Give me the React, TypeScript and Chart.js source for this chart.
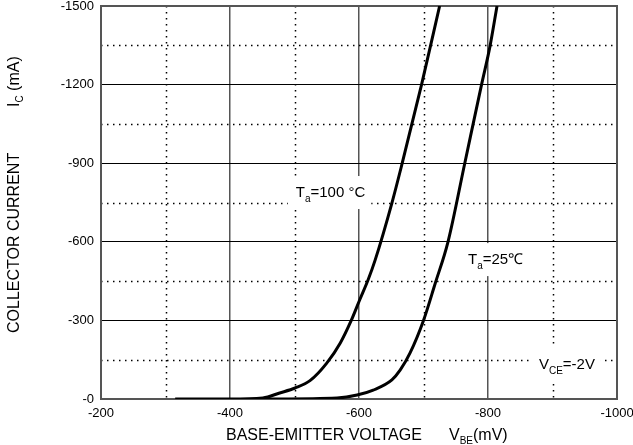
import React, { useEffect, useRef } from "react";
import { Chart, registerables } from "chart.js";

Chart.register(...registerables);

// VBE (mV) and IC (mA) for Ta = 100 °C
const vbe100 = [-315, -400, -451, -477, -501, -524, -550, -571, -588, -601, -614, -625, -651, -667, -697, -725];
const ic100 = [0, 0, -4, -23, -42, -70, -137, -214, -300, -378, -454, -530, -748, -900, -1200, -1500];
// VBE (mV) and IC (mA) for Ta = 25 °C
const vbe25 = [-450, -566, -597, -622, -651, -664, -679, -700, -718, -738, -764, -790, -803, -814];
const ic25 = [0, -4, -15, -34, -73, -111, -175, -300, -440, -600, -900, -1200, -1345, -1500];

const xMajorTicks = [-200, -400, -600, -800, -1000];
const yMajorTicks = [0, -300, -600, -900, -1200, -1500];
const xMinorLines = [-300, -500, -700, -900];
const yMinorLines = [-150, -450, -750, -1050, -1350];

const FONT = '"Liberation Sans", Arial, Helvetica, sans-serif';

type Seg = { t: string; size: number; dy?: number };

function segWidth(ctx: CanvasRenderingContext2D, segs: Seg[]) {
  let w = 0;
  for (const s of segs) {
    ctx.font = `${s.size}px ${FONT}`;
    w += ctx.measureText(s.t).width;
  }
  return w;
}

function drawRich(ctx: CanvasRenderingContext2D, segs: Seg[], x: number, y: number) {
  let cx = x;
  ctx.textBaseline = "alphabetic";
  ctx.textAlign = "left";
  for (const s of segs) {
    ctx.font = `${s.size}px ${FONT}`;
    ctx.fillText(s.t, cx, y + (s.dy || 0));
    cx += ctx.measureText(s.t).width;
  }
}

const annotations = [
  { x: -502, y: -790, segs: [{ t: "T", size: 15 }, { t: "a", size: 10, dy: 5 }, { t: "=100 \u00B0C", size: 15 }] as Seg[] },
  { x: -769, y: -534, segs: [{ t: "T", size: 15 }, { t: "a", size: 10, dy: 5 }, { t: "=25\u2103", size: 15 }] as Seg[] },
  { x: -879, y: -134, segs: [{ t: "V", size: 15 }, { t: "CE", size: 10, dy: 5 }, { t: "=-2V", size: 15 }] as Seg[] },
];

const customPlugin = {
  id: "custom",
  beforeDatasetsDraw(chart: any) {
    const ctx = chart.ctx as CanvasRenderingContext2D;
    const xs = chart.scales.x;
    const ys = chart.scales.y;
    const area = chart.chartArea;
    ctx.save();
    ctx.strokeStyle = "#000";
    ctx.lineWidth = 1.5;
    ctx.setLineDash([1.5, 4.5]);
    for (const v of xMinorLines) {
      const px = Math.round(xs.getPixelForValue(v)) + 0.5;
      ctx.beginPath();
      ctx.moveTo(px, area.top);
      ctx.lineTo(px, area.bottom);
      ctx.stroke();
    }
    for (const v of yMinorLines) {
      const py = Math.round(ys.getPixelForValue(v)) + 0.5;
      ctx.beginPath();
      ctx.moveTo(area.left, py);
      ctx.lineTo(area.right, py);
      ctx.stroke();
    }
    ctx.setLineDash([]);
    // frame
    ctx.strokeStyle = "#555";
    ctx.lineWidth = 2;
    ctx.strokeRect(area.left, area.top, area.right - area.left, area.bottom - area.top);
    // annotation backgrounds
    for (const a of annotations) {
      const px = xs.getPixelForValue(a.x);
      const py = ys.getPixelForValue(a.y);
      const w = segWidth(ctx, a.segs);
      ctx.fillStyle = "#fff";
      ctx.fillRect(px - 8, py - 16, w + 14, 33);
    }
    ctx.fillStyle = "#000";
    for (const a of annotations) {
      const px = xs.getPixelForValue(a.x);
      const py = ys.getPixelForValue(a.y);
      drawRich(ctx, a.segs, px, py + 5);
    }
    ctx.restore();
  },
  afterDraw(chart: any) {
    const ctx = chart.ctx as CanvasRenderingContext2D;
    ctx.save();
    ctx.fillStyle = "#000";
    // x-axis title
    drawRich(ctx, [{ t: "BASE-EMITTER VOLTAGE", size: 16 }], 226, 440);
    drawRich(ctx, [{ t: "V", size: 16 }, { t: "BE", size: 10, dy: 4 }, { t: "(mV)", size: 16 }], 449, 440);
    // y-axis title
    ctx.translate(19, 0);
    ctx.rotate(-Math.PI / 2);
    drawRich(ctx, [{ t: "COLLECTOR CURRENT", size: 16 }], -333, 0);
    drawRich(ctx, [{ t: "I", size: 16 }, { t: "C", size: 10, dy: 4 }, { t: " (mA)", size: 16 }], -107, 0);
    ctx.restore();
  },
};

export default function App() {
  const ref = useRef<HTMLCanvasElement | null>(null);
  useEffect(() => {
    if (!ref.current) return;
    const chart = new Chart(ref.current, {
      type: "line",
      data: {
        datasets: [
          {
            label: "Ta=100°C",
            data: vbe100.map((v, i) => ({ x: v, y: ic100[i] })),
            borderColor: "#000",
            borderWidth: 3,
            pointRadius: 0,
            cubicInterpolationMode: "monotone",
            fill: false,
          },
          {
            label: "Ta=25°C",
            data: vbe25.map((v, i) => ({ x: v, y: ic25[i] })),
            borderColor: "#000",
            borderWidth: 3,
            pointRadius: 0,
            cubicInterpolationMode: "monotone",
            fill: false,
          },
        ],
      },
      options: {
        animation: false,
        responsive: false,
        events: [],
        layout: { autoPadding: false, padding: { top: 6, right: 16, left: 0, bottom: 0 } },
        plugins: { legend: { display: false }, tooltip: { enabled: false } },
        scales: {
          x: {
            type: "linear",
            min: -1000,
            max: -200,
            reverse: true,
            afterFit: (s: any) => {
              s.height = 46;
              s.paddingLeft = 0;
              s.paddingRight = 0;
              s.paddingTop = 0;
              s.paddingBottom = 0;
            },
            afterBuildTicks: (s: any) => { s.ticks = xMajorTicks.map((v) => ({ value: v })); },
            grid: { color: "#555", lineWidth: 1.5, drawTicks: false },
            border: { display: false },
            ticks: {
              color: "#000",
              font: { family: FONT, size: 13 },
              padding: 7,
              maxRotation: 0,
              callback: (v: any) => String(v),
            },
          },
          y: {
            type: "linear",
            min: -1500,
            max: 0,
            reverse: true,
            afterFit: (s: any) => {
              s.width = 101;
              s.paddingLeft = 0;
              s.paddingRight = 0;
              s.paddingTop = 0;
              s.paddingBottom = 0;
            },
            afterBuildTicks: (s: any) => { s.ticks = yMajorTicks.map((v) => ({ value: v })); },
            grid: { color: "#000", lineWidth: 1, drawTicks: false },
            border: { display: false },
            ticks: {
              color: "#000",
              font: { family: FONT, size: 13 },
              padding: 7,
              callback: (v: any) => (v === 0 ? "-0" : String(v)),
            },
          },
        },
      },
      plugins: [customPlugin],
    } as any);
    return () => chart.destroy();
  }, []);
  return (
    <div style={{ position: "absolute", left: 0, top: 0, width: 633, height: 445, background: "#fff" }}>
      <canvas ref={ref} width={633} height={445} />
    </div>
  );
}
